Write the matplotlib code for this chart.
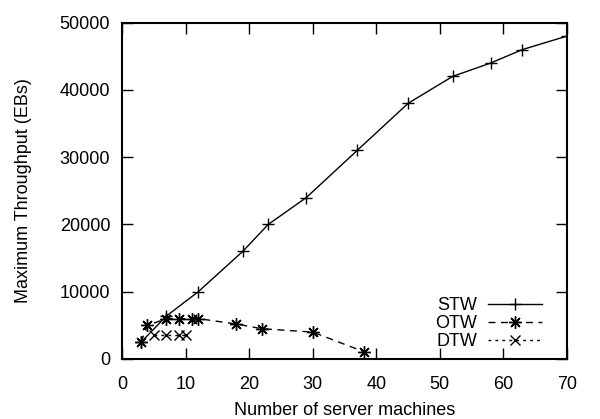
import matplotlib
matplotlib.use("Agg")
import matplotlib.pyplot as plt

plt.rcParams['font.family'] = ['Liberation Sans', 'DejaVu Sans']

stw_x = [3, 7, 12, 19, 23, 29, 37, 45, 52, 58, 63, 70]
stw_y = [2500, 6400, 10000, 16000, 20000, 24000, 31000, 38000, 42000, 44000, 46000, 48000]

otw_x = [3, 4, 7, 9, 11, 12, 18, 22, 30, 38]
otw_y = [2500, 5000, 6000, 6000, 6000, 6000, 5200, 4500, 4000, 1100]

dtw_x = [5, 7, 9, 10]
dtw_y = [3500, 3500, 3500, 3500]

fig = plt.figure(figsize=(6, 4.19), dpi=100)
ax = fig.add_axes([0.2033, 0.1432, 0.7417, 0.8028])

ax.plot(stw_x, stw_y, color='black', lw=1, marker='+', ms=9, mew=1, label='STW')
ax.plot(otw_x, otw_y, color='black', lw=1, ls=(0, (5, 4)), marker=(8, 2, 0), ms=9, mew=1, label='OTW')
ax.plot(dtw_x, dtw_y, color='black', lw=1, ls=(0, (2, 3)), marker='x', ms=7, mew=1, label='DTW')

ax.set_xlim(0, 70)
ax.set_ylim(0, 50000)
ax.set_xticks(range(0, 71, 10))
ax.set_yticks(range(0, 50001, 10000))
ax.tick_params(direction='in', length=8, width=1, top=True, right=True, labelsize=13)
ax.tick_params(axis='x', pad=12)
ax.tick_params(axis='y', pad=8.5)
for s in ax.spines.values():
    s.set_linewidth(1.5)

ax.set_xlabel('Number of server machines', fontsize=13, labelpad=7)
ax.set_ylabel('Maximum Throughput (EBs)', fontsize=13, labelpad=20)

ax.legend(loc='lower right', frameon=False, markerfirst=False, fontsize=13,
          handlelength=3.0, labelspacing=0.05, handletextpad=0.6,
          borderaxespad=0.0, bbox_to_anchor=(0.96, 0.005))

fig.savefig('out.png', dpi=100)
